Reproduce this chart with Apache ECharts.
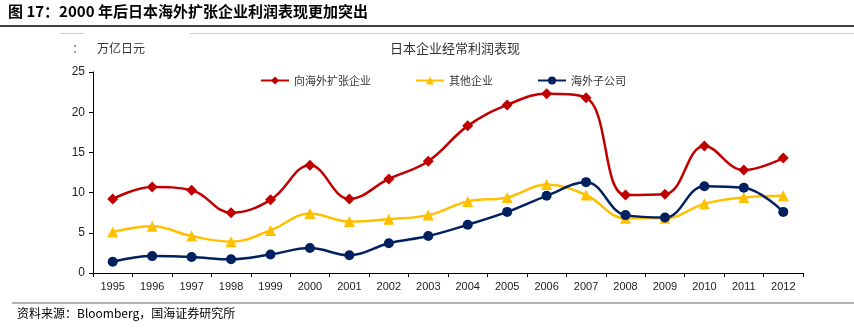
<!DOCTYPE html>
<html><head><meta charset="utf-8">
<script src="https://cdn.jsdelivr.net/npm/echarts@6/dist/echarts.min.js"></script>
<style>html,body{margin:0;padding:0;background:#fff}#c{width:854px;height:330px}</style>
</head><body><div id="c"></div>
<script>
const years = ['1995','1996','1997','1998','1999','2000','2001','2002','2003','2004','2005','2006','2007','2008','2009','2010','2011','2012'];
const expansion = [9.2,10.7,10.3,7.5,9.1,13.4,9.2,11.7,13.9,18.3,20.9,22.3,21.8,9.7,9.8,15.8,12.8,14.3];
const others = [5.1,5.8,4.6,3.9,5.3,7.4,6.4,6.7,7.2,8.9,9.4,11.0,9.7,6.8,6.8,8.6,9.4,9.6];
const subsidiaries = [1.4,2.1,2.0,1.7,2.3,3.1,2.2,3.7,4.6,6.0,7.6,9.6,11.3,7.2,6.9,10.8,10.6,7.6];
const seriesNames = ['向海外扩张企业','其他企业','海外子公司'];

const chart = echarts.init(document.getElementById('c'));
const cjk = '"Noto Sans CJK SC", sans-serif';
chart.setOption({
  animation:false,
  backgroundColor:'#fff',
  title:{text:'日本企业经常利润表现',left:450,top:37,textAlign:'center',
    textStyle:{fontSize:13,fontWeight:'normal',color:'#333',fontFamily:cjk}},
  legend:{top:70,left:255,itemGap:44,itemWidth:28,itemHeight:10,
    textStyle:{fontSize:11,color:'#333',fontFamily:cjk},
    data:seriesNames},
  graphic:[
    {type:'text',left:8,top:4,style:{text:'图 17：2000 年后日本海外扩张企业利润表现更加突出',font:'bold 15px "Noto Sans CJK SC", sans-serif',fill:'#000'}},
    {type:'line',shape:{x1:0,y1:26,x2:854,y2:26},style:{stroke:'#000',lineWidth:1.5}},
    {type:'line',shape:{x1:60,y1:33.5,x2:84,y2:33.5},style:{stroke:'#ccc',lineWidth:1}},
    {type:'line',shape:{x1:190,y1:33.5,x2:854,y2:33.5},style:{stroke:'#ccc',lineWidth:1}},
    {type:'text',left:72,top:42,style:{text:'：',font:'12px "Noto Sans CJK SC", sans-serif',fill:'#666'}},
    {type:'text',left:97,top:42,style:{text:'万亿日元',font:'12px "Noto Sans CJK SC", sans-serif',fill:'#333'}},
    {type:'line',shape:{x1:12,y1:303,x2:854,y2:303},style:{stroke:'#999',lineWidth:1.5}},
    {type:'text',left:17,top:307,style:{text:'资料来源：Bloomberg，国海证券研究所',font:'12px "Noto Sans CJK SC", sans-serif',fill:'#000'}}
  ],
  grid:{left:93,right:51,top:72,bottom:57},
  xAxis:{type:'category',data:years,boundaryGap:true,
    axisLine:{lineStyle:{color:'#000',width:1}},
    axisTick:{show:true,alignWithLabel:false,length:4,lineStyle:{color:'#000'}},
    axisLabel:{fontSize:11,color:'#222',fontFamily:'"Liberation Sans Narrow", "Liberation Sans", sans-serif',margin:8}},
  yAxis:{type:'value',min:0,max:25,interval:5,
    axisLine:{show:true,lineStyle:{color:'#000',width:1}},
    axisTick:{show:true,length:4,lineStyle:{color:'#000'}},
    splitLine:{show:false},
    axisLabel:{fontSize:12,color:'#222',fontFamily:'"Liberation Sans", sans-serif',margin:8}},
  series:[
    {name:seriesNames[0],type:'line',data:expansion,smooth:0.4,symbol:'diamond',symbolSize:11,
      itemStyle:{color:'#C00000'},lineStyle:{color:'#C00000',width:2.5}},
    {name:seriesNames[1],type:'line',data:others,smooth:0.4,symbol:'triangle',symbolSize:11,
      itemStyle:{color:'#FFC000'},lineStyle:{color:'#FFC000',width:2.5}},
    {name:seriesNames[2],type:'line',data:subsidiaries,smooth:0.4,symbol:'circle',symbolSize:10,
      itemStyle:{color:'#002060'},lineStyle:{color:'#002060',width:2.5}}
  ]
});
</script></body></html>
